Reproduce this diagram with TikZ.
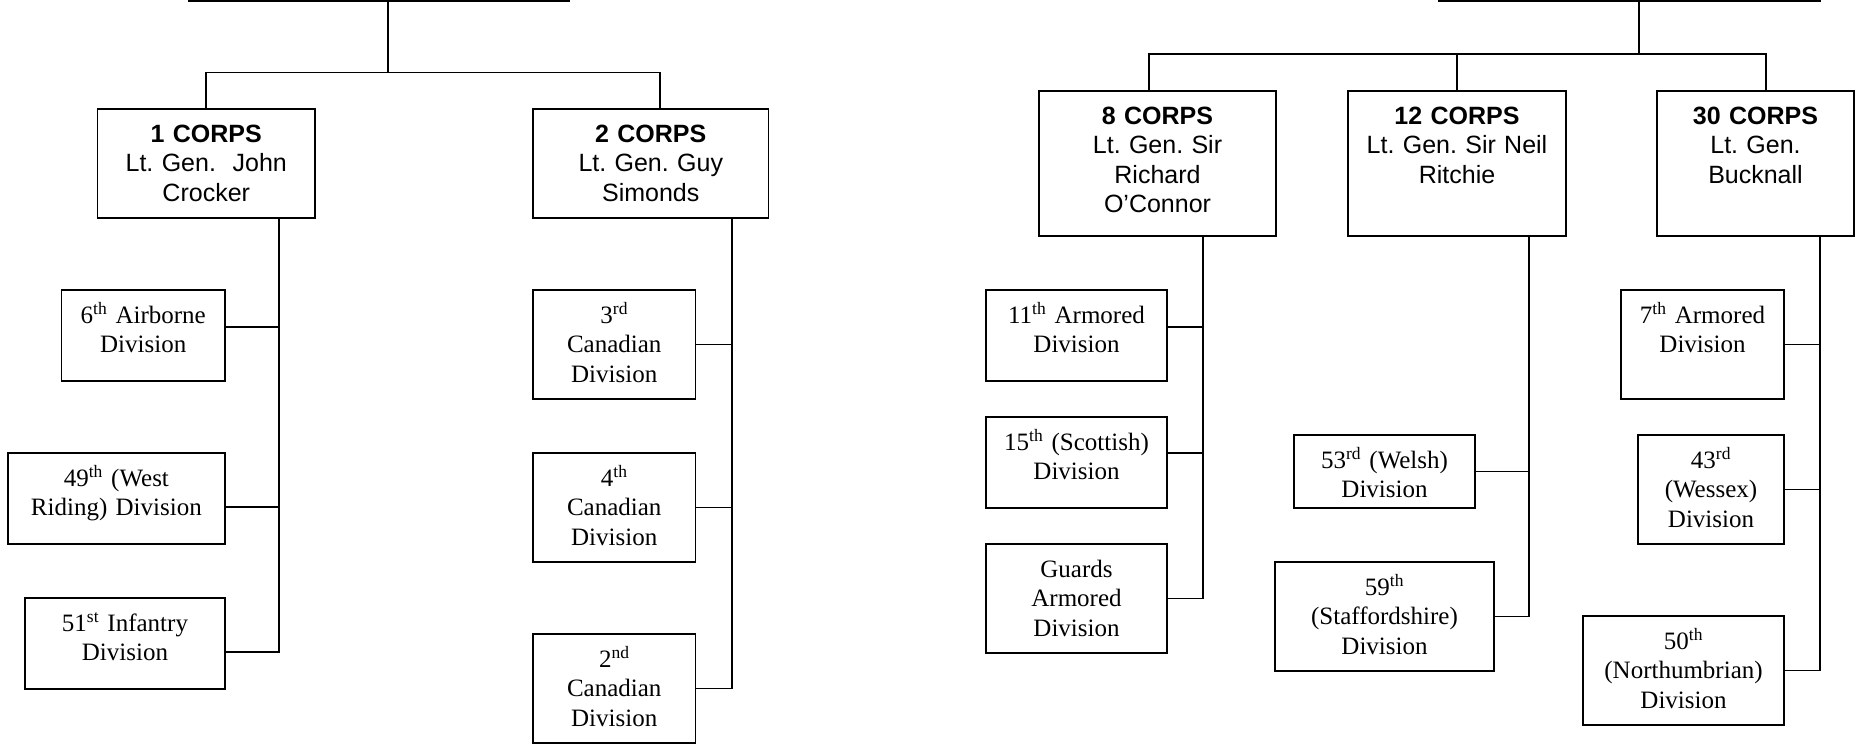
\documentclass[tikz,border=0pt]{standalone}
\usepackage{fontspec}
\setmainfont{Liberation Serif}
\newfontfamily\corpsfont{Liberation Sans}

\tikzset{
  box/.style={draw, line width=1.9pt, inner sep=0pt, outer sep=0pt},
  divtext/.style={font=\fontsize{25}{29.3}\selectfont\frenchspacing, align=center, inner sep=0pt},
  corpstext/.style={font=\corpsfont\fontsize{25}{29.3}\selectfont\frenchspacing, align=center, inner sep=0pt},
  link/.style={line width=1.9pt},
  hqline/.style={line width=2.4pt},
}

% #1 name, #2 left, #3 top, #4 right, #5 bottom, #6 text style, #7 text
\newcommand\unitbox[7]{%
  \pgfmathsetmacro\ubw{#4-#2}%
  \pgfmathsetmacro\ubh{#5-#3}%
  \pgfmathsetmacro\ubt{#4-#2-6}%
  \node[box, minimum width=\ubw pt, minimum height=\ubh pt] (#1) at ({(#2+#4)/2},{(#3+#5)/2}) {};
  \node[#6, text width=\ubt pt, anchor=base] (#1-t) at ([yshift=-33.5pt]#1.north) {#7};
}

\begin{document}
\begin{tikzpicture}[x=1pt, y=-1pt]
\useasboundingbox (0,0) rectangle (1855,745);

% ---------- Left army ----------
\coordinate (hqA-l) at (188,1.1);
\coordinate (hqA-r) at (570,1.1);
\coordinate (hqA) at (388,1.1);
\draw[hqline] (hqA-l) -- (hqA-r);

\unitbox{c1}{97.5}{109}{315}{218}{corpstext}{\textbf{1 CORPS}\\Lt. Gen.\ \ John\\Crocker}
\unitbox{c2}{533}{109}{768.5}{218}{corpstext}{\textbf{2 CORPS}\\Lt. Gen. Guy\\Simonds}

\unitbox{d11}{61.5}{290}{225}{381}{divtext}{6\textsuperscript{th} Airborne\\Division}
\unitbox{d12}{7.7}{453}{225}{544}{divtext}{49\textsuperscript{th} (West\\Riding) Division}
\unitbox{d13}{25}{598}{225}{689}{divtext}{51\textsuperscript{st} Infantry\\Division}

\unitbox{d21}{533}{290}{695.5}{399}{divtext}{3\textsuperscript{rd}\\Canadian\\Division}
\unitbox{d22}{533}{453}{695.5}{562}{divtext}{4\textsuperscript{th}\\Canadian\\Division}
\unitbox{d23}{533}{634}{695.5}{743}{divtext}{2\textsuperscript{nd}\\Canadian\\Division}

\coordinate (busA) at (388,72.5);
\draw[link] (hqA) -- (busA);
\draw[link] (busA) -| (c1.north);
\draw[link] (busA) -| ([xshift=9pt]c2.north);

\coordinate (t1) at ([xshift=72.5pt]c1.south);
\coordinate (t2) at ([xshift=81.5pt]c2.south);
\coordinate (d11c) at ([yshift=8.5pt]d11.east);
\coordinate (d12c) at ([yshift=-8.5pt]d12.east);
\coordinate (d13c) at ([yshift=-8.5pt]d13.east);
\draw[link] (t1) |- (d13c);
\draw[link] (t1) |- (d12c);
\draw[link] (t1) |- (d11c);
\draw[link] (t2) |- (d23.east);
\draw[link] (t2) |- (d22.east);
\draw[link] (t2) |- (d21.east);

% ---------- Right army ----------
\coordinate (hqB-l) at (1438,1.1);
\coordinate (hqB-r) at (1821,1.1);
\coordinate (hqB) at (1639,1.1);
\draw[hqline] (hqB-l) -- (hqB-r);

\unitbox{c8}{1039}{91}{1276}{236}{corpstext}{\textbf{8 CORPS}\\Lt. Gen. Sir\\Richard\\O’Connor}
\unitbox{c12}{1348}{91}{1566}{236}{corpstext}{\textbf{12 CORPS}\\Lt. Gen. Sir Neil\\Ritchie}
\unitbox{c30}{1657}{91}{1854}{236}{corpstext}{\textbf{30 CORPS}\\Lt. Gen.\\Bucknall}

\unitbox{d81}{986}{290}{1167}{381}{divtext}{11\textsuperscript{th} Armored\\Division}
\unitbox{d82}{986}{417}{1167}{508}{divtext}{15\textsuperscript{th} (Scottish)\\Division}
\unitbox{d83}{986}{544}{1167}{653}{divtext}{Guards\\Armored\\Division}

\unitbox{d121}{1294}{435}{1475}{508}{divtext}{53\textsuperscript{rd} (Welsh)\\Division}
\unitbox{d122}{1275}{562}{1494}{671}{divtext}{59\textsuperscript{th}\\(Staffordshire)\\Division}

\unitbox{d301}{1621}{290}{1784}{399}{divtext}{7\textsuperscript{th} Armored\\Division}
\unitbox{d302}{1638}{435}{1784}{544}{divtext}{43\textsuperscript{rd}\\(Wessex)\\Division}
\unitbox{d303}{1583}{616}{1784}{725}{divtext}{50\textsuperscript{th}\\(Northumbrian)\\Division}

\coordinate (busB) at (1639,54);
\draw[link] (hqB) -- (busB);
\draw[link] (busB) -| ([xshift=-8.5pt]c8.north);
\draw[link] (busB) -| (c12.north);
\draw[link] (busB) -| ([xshift=10.5pt]c30.north);

\coordinate (t8) at ([xshift=45.5pt]c8.south);
\coordinate (t12) at ([xshift=72pt]c12.south);
\coordinate (t30) at ([xshift=64.5pt]c30.south);
\coordinate (d81c) at ([yshift=8.5pt]d81.east);
\coordinate (d82c) at ([yshift=9.5pt]d82.east);
\draw[link] (t8) |- (d83.east);
\draw[link] (t8) |- (d82c);
\draw[link] (t8) |- (d81c);
\draw[link] (t12) |- (d122.east);
\draw[link] (t12) |- (d121.east);
\draw[link] (t30) |- (d303.east);
\draw[link] (t30) |- (d302.east);
\draw[link] (t30) |- (d301.east);
\end{tikzpicture}
\end{document}
